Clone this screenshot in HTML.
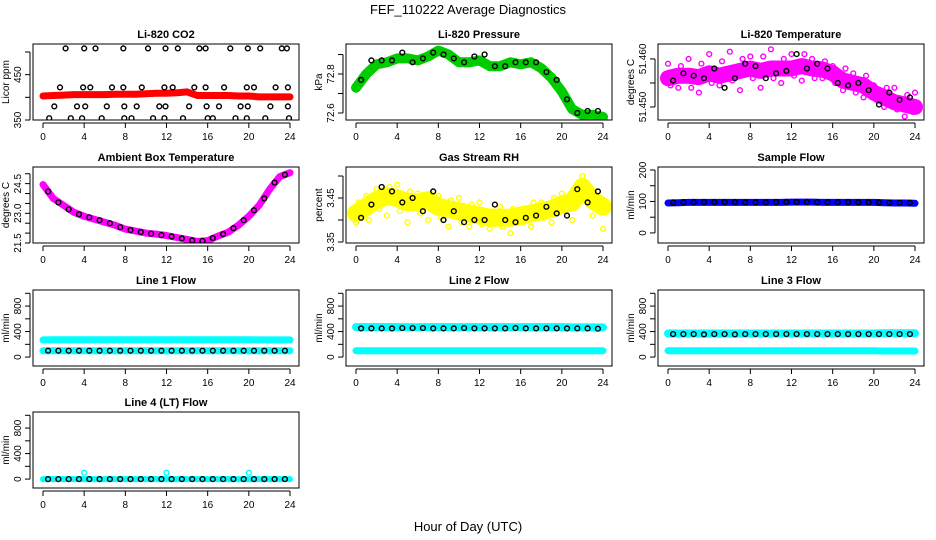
<!DOCTYPE html>
<html><head><meta charset="utf-8"><style>
body{margin:0;background:#fff;}
svg{display:block;font-family:"Liberation Sans",sans-serif;}
</style></head><body>
<svg id="chart" width="936" height="540" viewBox="0 0 936 540">
<text x="468" y="14" text-anchor="middle" font-size="13">FEF_110222  Average Diagnostics</text>
<text x="468" y="531" text-anchor="middle" font-size="13">Hour of Day (UTC)</text>
</svg>
<script>
// ---- data ----
const xTicks = [0,4,8,12,16,20,24];
const hours25 = [0,1,2,3,4,5,6,7,8,9,10,11,12,13,14,15,16,17,18,19,20,21,22,23,24];
const halfHours = [0.5,1.5,2.5,3.5,4.5,5.5,6.5,7.5,8.5,9.5,10.5,11.5,12.5,13.5,14.5,15.5,16.5,17.5,18.5,19.5,20.5,21.5,22.5,23.5];
const quarterHours = [0.25,1.25,2.25,3.25,4.25,5.25,6.25,7.25,8.25,9.25,10.25,11.25,12.25,13.25,14.25,15.25,16.25,17.25,18.25,19.25,20.25,21.25,22.25,23.25,23.75];

const co2Red = [403,404,405,406,406,406,406,407,407,407,408,409,409,410,412,404,404,404,404,403,403,401,401,401,401];
const co2BlackX = [2.2,4.0,5.1,7.8,10.2,11.9,13.1,15.2,15.8,18.2,19.9,21.1,23.2,23.7,
 1.65,3.9,4.6,6.7,7.8,9.6,11.8,12.6,14.7,15.8,17.6,19.8,20.5,22.6,23.8,
 1.1,3.3,4.1,6.2,7.9,9.1,11.3,11.9,14.2,15.9,17.1,19.2,19.9,22.1,23.8,
 0.6,2.7,3.8,5.7,7.9,8.6,10.7,11.8,13.6,16.0,16.5,18.7,19.8,21.6,23.9];
const co2BlackY = [508,508,508,508,508,508,508,508,508,508,508,508,508,508,
 422,422,422,422,422,422,422,422,422,422,422,422,422,422,422,
 380,380,380,380,380,380,380,380,380,380,380,380,380,380,380,
 354,354,354,354,354,354,354,354,354,354,354,354,354,354,354];

const presGreen = [72.73,72.80,72.85,72.86,72.88,72.88,72.87,72.89,72.92,72.90,72.86,72.86,72.87,72.84,72.84,72.86,72.85,72.86,72.83,72.78,72.71,72.62,72.59,72.59,72.58];
const presBlack = [72.77,72.87,72.87,72.87,72.91,72.86,72.88,72.91,72.90,72.88,72.86,72.89,72.90,72.84,72.84,72.86,72.86,72.86,72.81,72.77,72.67,72.60,72.61,72.61];

const tempMag = [51.4560,51.4565,51.4565,51.4562,51.4570,51.4565,51.4570,51.4575,51.4580,51.4575,51.4580,51.4580,51.4580,51.4585,51.4580,51.4578,51.4570,51.4555,51.4550,51.4545,51.4530,51.4520,51.4510,51.4505,51.4500];
const tempMagScatter = [51.4590,51.4540,51.4600,51.4530,51.4610,51.4545,51.4615,51.4535,51.4605,51.4540,51.4620,51.4550,51.4610,51.4555,51.4600,51.4560,51.4585,51.4535,51.4570,51.4520,51.4545,51.4500,51.4540,51.4480,51.4530];
const tempMagScatter2 = [51.4545,51.4585,51.4540,51.4590,51.4550,51.4595,51.4555,51.4600,51.4560,51.4605,51.4560,51.4600,51.4565,51.4610,51.4560,51.4595,51.4550,51.4580,51.4530,51.4565,51.4515,51.4540,51.4495,51.4525,51.4490];
const tempBlack = [51.4555,51.4570,51.4565,51.4560,51.4580,51.4540,51.4560,51.4590,51.4585,51.4560,51.4570,51.4575,51.4610,51.4580,51.4590,51.4580,51.4550,51.4545,51.4550,51.4535,51.4505,51.4530,51.4515,51.4520];

const ambMag = [24.45,23.75,23.40,23.05,22.85,22.70,22.55,22.40,22.20,22.10,22.00,21.95,21.88,21.78,21.68,21.58,21.62,21.85,22.05,22.40,22.85,23.40,24.20,24.85,25.05];
const ambBlack = [24.10,23.55,23.20,22.95,22.80,22.65,22.50,22.30,22.15,22.05,21.97,21.90,21.83,21.73,21.63,21.60,21.75,21.95,22.25,22.65,23.15,23.75,24.55,24.95];

const rhYellow = [3.415,3.430,3.445,3.455,3.450,3.440,3.440,3.445,3.430,3.425,3.420,3.415,3.410,3.405,3.405,3.405,3.410,3.415,3.420,3.425,3.435,3.440,3.475,3.445,3.430];
const rhScatter = [3.395,3.455,3.470,3.410,3.480,3.395,3.460,3.400,3.455,3.385,3.450,3.385,3.440,3.380,3.430,3.370,3.420,3.385,3.440,3.395,3.460,3.400,3.500,3.410,3.380];
const rhScatter2 = [3.440,3.400,3.425,3.475,3.420,3.465,3.415,3.460,3.405,3.445,3.395,3.435,3.390,3.420,3.385,3.425,3.395,3.440,3.405,3.450,3.420,3.470,3.450,3.425,3.445];
const rhBlack = [3.405,3.435,3.475,3.465,3.440,3.450,3.420,3.465,3.400,3.420,3.395,3.400,3.400,3.435,3.400,3.395,3.405,3.410,3.430,3.415,3.410,3.470,3.440,3.465];

const sampBlue = [95,96,97,97,97,97,97,97,97,97,97,97,98,98,98,97,97,97,97,97,97,96,95,95,94];
const sampBlack = [97,98,98,98,98,98,98,97,97,97,98,98,98,98,98,98,98,98,97,97,97,96,96,96];

const l1CyanHigh = [270,272,272,272,272,272,272,272,272,272,272,272,272,272,272,272,272,272,272,272,272,270,270,270,270];
const l1CyanLow = [100,100,100,100,100,100,100,100,100,100,100,100,100,100,100,100,100,100,100,100,100,100,100,100,100];
const l1Black = [100,100,100,100,100,100,100,100,100,100,100,100,100,100,100,100,100,100,100,100,100,100,100,100];

const l2CyanHigh = [470,470,470,470,470,470,470,470,470,470,470,470,470,470,470,470,470,470,470,470,470,465,465,465,465];
const l2CyanLow = [100,100,100,100,100,100,100,100,100,100,100,100,100,100,100,100,100,100,100,100,100,100,100,100,100];
const l2Black = [450,450,450,450,455,455,455,450,450,450,455,450,450,450,450,455,450,450,450,450,450,450,450,445];

const l3CyanHigh = [370,370,370,370,370,370,370,370,370,370,370,370,370,370,370,370,370,370,370,370,370,375,375,375,375];
const l3CyanLow = [100,100,100,100,100,100,100,100,100,100,100,100,100,100,100,100,100,100,100,100,100,95,95,95,95];
const l3Black = [360,360,360,355,360,360,355,360,360,360,360,360,360,360,360,360,360,360,360,360,360,360,360,360];

const l4Cyan = [0,0,0,0,0,0,0,0,0,0,0,0,0,0,0,0,0,0,0,0,0,0,0,0,0];
const l4Outlier = [100,100,100];
const l4OutlierX = [4,12,20];
const l4Black = [0,0,0,0,0,0,0,0,0,0,0,0,0,0,0,0,0,0,0,0,0,0,0,0];

const flowTicks = [0,200,400,600,800,1000];
const flowLabels = [0,400,800];

// ---- drawing ----
const svg = document.getElementById('chart');
const NS = 'http://www.w3.org/2000/svg';
function mk(tag, attrs, parent){
  const e = document.createElementNS(NS, tag);
  for (const k in attrs) e.setAttribute(k, attrs[k]);
  (parent||svg).appendChild(e);
  return e;
}
const colX = [33, 346, 658];
const rowY = [44, 167, 290, 412];
const W = 266, H = 76;

function panel(cfg){
  const g = mk('g', {});
  
  
  const L = colX[cfg.col], T = rowY[cfg.row];
  const sx = h => L + 10 + (h/24)*247;
  const sy = v => T + H - (v - cfg.ymin)/(cfg.ymax - cfg.ymin)*H;
  const t = mk('text', {x: L + W/2, y: T - 6, 'text-anchor':'middle', 'font-size':11, 'font-weight':'bold'}, g);
  t.textContent = cfg.title;
  
  
  const cid = 'clip' + cfg.col + cfg.row;
  const cp = mk('clipPath', {id: cid}, g);
  mk('rect', {x: L, y: T, width: W, height: H}, cp);
  const sg = mk('g', {'clip-path': 'url(#'+cid+')'}, g);
  cfg.series.forEach(s => {
    if (s.type === 'band') {
      const pts = s.xs.map((x,i)=> sx(x).toFixed(1)+','+sy(s.ys[i]).toFixed(1)).join(' ');
      const pl = mk('polyline', {points: pts, fill:'none', stroke: s.color, 'stroke-width': s.w, 'stroke-linecap':'round', 'stroke-linejoin':'round'}, sg);
      
      
    } else {
      s.ys.forEach((v,i) => {
        const c = mk('circle', {cx: sx(s.xs[i]).toFixed(1), cy: sy(v).toFixed(1), r: 2.4, fill:'none', stroke: s.color, 'stroke-width': 1.4}, sg);
        
        
      });
    }
  });
  const b = mk('rect', {x: L, y: T, width: W, height: H, fill:'none', stroke:'#000', 'stroke-width':1}, g);
  
  
  const xa = mk('g', {}, g);
  
  
  mk('line', {x1: sx(0), x2: sx(24), y1: T+H+3, y2: T+H+3, stroke:'#000'}, xa);
  xTicks.forEach(h => {
    mk('line', {x1: sx(h), x2: sx(h), y1: T+H+3, y2: T+H+8, stroke:'#000'}, xa);
    const lt = mk('text', {x: sx(h), y: T+H+20, 'text-anchor':'middle', 'font-size':10}, xa);
    lt.textContent = h;
  });
  const ya = mk('g', {}, g);
  
  
  const y0 = sy(cfg.yticks[0]), y1 = sy(cfg.yticks[cfg.yticks.length-1]);
  mk('line', {x1: L-3, x2: L-3, y1: y0, y2: y1, stroke:'#000'}, ya);
  cfg.yticks.forEach(v => {
    mk('line', {x1: L-3, x2: L-8, y1: sy(v), y2: sy(v), stroke:'#000'}, ya);
  });
  cfg.ylabels.forEach((v,i) => {
    const txt = cfg.ylabelText ? cfg.ylabelText[i] : String(v);
    const yy = sy(v);
    const lt = mk('text', {x: L-12, y: yy, 'text-anchor':'middle', 'font-size':10, transform:'rotate(-90 '+(L-12)+' '+yy+')'}, ya);
    lt.textContent = txt;
  });
  const yt = mk('text', {x: L-24, y: T+H/2, 'text-anchor':'middle', 'font-size':10, transform:'rotate(-90 '+(L-24)+' '+(T+H/2)+')'}, g);
  yt.textContent = cfg.ylab;
  
  
}

panel({name:'co2-panel', title:'Li-820 CO2', col:0, row:0, ymin:350, ymax:517.6, yticks:[350,400,450,500], ylabels:[350,450], ylab:'Licor ppm',
  series:[{type:'band', xs:hours25, ys:co2Red, color:'#ff0000', w:7, name:'co2-series'},
          {type:'pts', xs:co2BlackX, ys:co2BlackY, color:'#000', name:'co2-average-point'}]});
panel({name:'pressure-panel', title:'Li-820 Pressure', col:1, row:0, ymin:72.564, ymax:72.954, yticks:[72.6,72.7,72.8,72.9], ylabels:[72.6,72.8], ylabelText:['72.6','72.8'], ylab:'kPa',
  series:[{type:'band', xs:hours25, ys:presGreen, color:'#00cc00', w:10, name:'pressure-series'},
          {type:'pts', xs:halfHours, ys:presBlack, color:'#000', name:'pressure-average-point'}]});
panel({name:'temperature-panel', title:'Li-820 Temperature', col:2, row:0, ymin:51.4473, ymax:51.4631, yticks:[51.450,51.455,51.460], ylabels:[51.450,51.460], ylabelText:['51.450','51.460'], ylab:'degrees C',
  series:[{type:'band', xs:hours25, ys:tempMag, color:'#ff00ff', w:16, name:'temperature-series'},
          {type:'pts', xs:hours25, ys:tempMagScatter, color:'#ff00ff', name:'temperature-scatter'},
          {type:'pts', xs:quarterHours, ys:tempMagScatter2, color:'#ff00ff', name:'temperature-scatter'},
          {type:'pts', xs:halfHours, ys:tempBlack, color:'#000', name:'temperature-average-point'}]});
panel({name:'ambient-panel', title:'Ambient Box Temperature', col:0, row:1, ymin:21.5, ymax:25.34, yticks:[21.5,22,22.5,23,23.5,24,24.5,25], ylabels:[21.5,23,24.5], ylabelText:['21.5','23.0','24.5'], ylab:'degrees C',
  series:[{type:'band', xs:hours25, ys:ambMag, color:'#ff00ff', w:7, name:'ambient-series'},
          {type:'pts', xs:halfHours, ys:ambBlack, color:'#000', name:'ambient-average-point'}]});
panel({name:'rh-panel', title:'Gas Stream RH', col:1, row:1, ymin:3.3477, ymax:3.5205, yticks:[3.35,3.40,3.45,3.50], ylabels:[3.35,3.45], ylabelText:['3.35','3.45'], ylab:'percent',
  series:[{type:'band', xs:hours25, ys:rhYellow, color:'#ffff00', w:18, name:'rh-series'},
          {type:'pts', xs:hours25, ys:rhScatter, color:'#ffff00', name:'rh-scatter'},
          {type:'pts', xs:quarterHours, ys:rhScatter2, color:'#ffff00', name:'rh-scatter'},
          {type:'pts', xs:halfHours, ys:rhBlack, color:'#000', name:'rh-average-point'}]});
panel({name:'sample-flow-panel', title:'Sample Flow', col:2, row:1, ymin:-32, ymax:209.5, yticks:[0,50,100,150,200], ylabels:[0,100,200], ylab:'ml/min',
  series:[{type:'band', xs:hours25, ys:sampBlue, color:'#0000ff', w:7, name:'sample-flow-series'},
          {type:'pts', xs:halfHours, ys:sampBlack, color:'#000', name:'sample-flow-average-point'}]});
panel({name:'line1-panel', title:'Line 1 Flow', col:0, row:2, ymin:-140, ymax:1052, yticks:flowTicks, ylabels:flowLabels, ylab:'ml/min',
  series:[{type:'band', xs:hours25, ys:l1CyanHigh, color:'#00ffff', w:7, name:'line1-high-series'},
          {type:'band', xs:hours25, ys:l1CyanLow, color:'#00ffff', w:7, name:'line1-low-series'},
          {type:'pts', xs:halfHours, ys:l1Black, color:'#000', name:'line1-average-point'}]});
panel({name:'line2-panel', title:'Line 2 Flow', col:1, row:2, ymin:-140, ymax:1052, yticks:flowTicks, ylabels:flowLabels, ylab:'ml/min',
  series:[{type:'band', xs:hours25, ys:l2CyanHigh, color:'#00ffff', w:8, name:'line2-high-series'},
          {type:'band', xs:hours25, ys:l2CyanLow, color:'#00ffff', w:7, name:'line2-low-series'},
          {type:'pts', xs:halfHours, ys:l2Black, color:'#000', name:'line2-average-point'}]});
panel({name:'line3-panel', title:'Line 3 Flow', col:2, row:2, ymin:-140, ymax:1052, yticks:flowTicks, ylabels:flowLabels, ylab:'ml/min',
  series:[{type:'band', xs:hours25, ys:l3CyanHigh, color:'#00ffff', w:8, name:'line3-high-series'},
          {type:'band', xs:hours25, ys:l3CyanLow, color:'#00ffff', w:7, name:'line3-low-series'},
          {type:'pts', xs:halfHours, ys:l3Black, color:'#000', name:'line3-average-point'}]});
panel({name:'line4-panel', title:'Line 4 (LT) Flow', col:0, row:3, ymin:-140, ymax:1052, yticks:flowTicks, ylabels:flowLabels, ylab:'ml/min',
  series:[{type:'band', xs:hours25, ys:l4Cyan, color:'#00ffff', w:6, name:'line4-series'},
          {type:'pts', xs:l4OutlierX, ys:l4Outlier, color:'#00ffff', name:'line4-outlier'},
          {type:'pts', xs:halfHours, ys:l4Black, color:'#000', name:'line4-average-point'}]});
</script>
</body></html>
